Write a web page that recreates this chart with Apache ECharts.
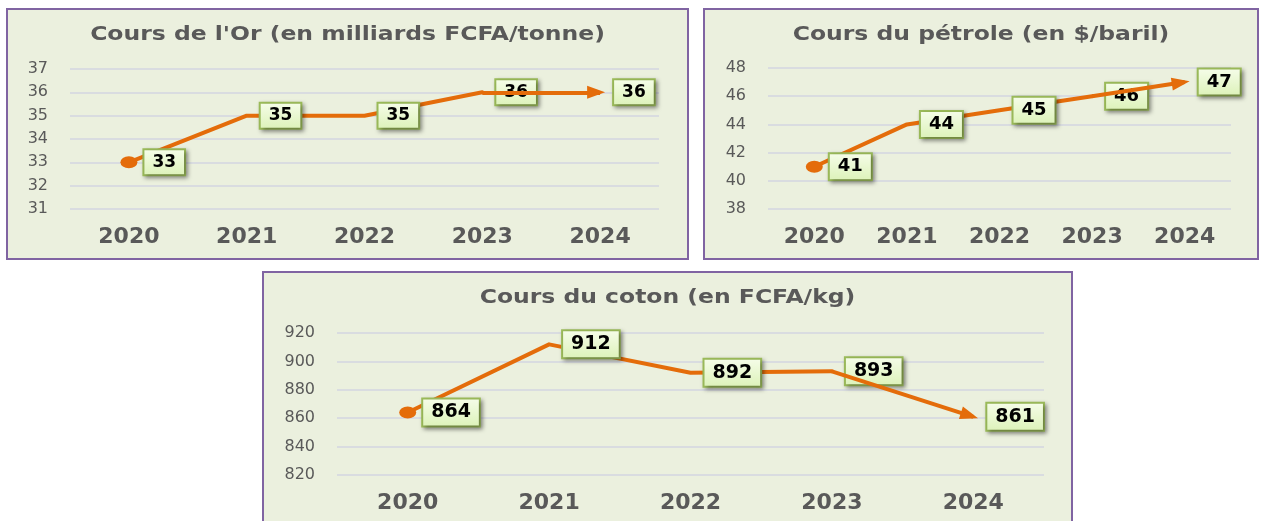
<!DOCTYPE html>
<html>
<head>
<meta charset="utf-8">
<title>Cours</title>
<script src="https://cdn.jsdelivr.net/npm/echarts@6/dist/echarts.min.js"></script>
<style>
    html, body { margin: 0; padding: 0; background: #fff; overflow: hidden; width: 1261px; height: 521px; }
    .panel { position: absolute; box-sizing: border-box; border: 2px solid #8064a2; background: #ebf0de; }
    .or { left: 6px; top: 8px; width: 683px; height: 252px; }
    .petrole { left: 703px; top: 8px; width: 556px; height: 252px; }
    .coton { left: 262px; top: 271px; width: 811px; height: 262px; }
    .panel .chart { width: 100%; height: 100%; }
</style>
</head>
<body>
<div class="panel or"><div class="chart"></div></div>
<div class="panel petrole"><div class="chart"></div></div>
<div class="panel coton"><div class="chart"></div></div>
<script>
var years = ["2020", "2021", "2022", "2023", "2024"];

var orValues = [33, 35, 35, 36, 36];
var orTicks = [31, 32, 33, 34, 35, 36, 37];

var petroleValues = [41, 44, 45, 46, 47];
var petroleTicks = [38, 40, 42, 44, 46, 48];

var cotonValues = [864, 912, 892, 893, 861];
var cotonTicks = [820, 840, 860, 880, 900, 920];

var orange = '#e46c0a';
var grey = '#595959';

// triangle un peu en avant du centre du symbole, pour couvrir le bout du trait
// (les M du debut fixent la boite de 0 a 36)
var arrowPath = 'path://M6.5,0 M6.5,36 M6.5,13 L13,31 L0,31 Z';

// etiquette encadree verte
function boxLabel(size) {
    return {
        show: true,
        position: 'right',
        distance: 14,
        fontFamily: 'DejaVu Sans',
        fontWeight: 'bold',
        fontSize: size,
        color: '#000',
        padding: [4, 8, 3, 8],
        borderColor: '#9bbb59',
        borderWidth: 2,
        backgroundColor: new echarts.graphic.LinearGradient(0, 0, 0, 1, [
            { offset: 0, color: '#f6fdea' },
            { offset: 1, color: '#dcf2b8' }
        ]),
        shadowColor: 'rgba(0,0,0,0.35)',
        shadowBlur: 4,
        shadowOffsetX: 2,
        shadowOffsetY: 2
    };
}

// construit l'option d'un petit graphique
function buildOption(chart, titre, values, ticks, grid, labelSize) {
    var n = values.length;
    // la ligne s'arrete a l'avant-dernier point, la fleche fait le reste
    var lineData = values.map(function (v, i) {
        if (i === 0) {
            return { value: v, symbolSize: [17, 12], label: { distance: 7 } };
        }
        return i < n - 1 ? v : '-';
    });
    var lastData = values.map(function (v, i) {
        return i === n - 1 ? v : '-';
    });
    return {
        animation: false,
        // titre un peu etire comme dans l'original
        graphic: [{
            type: 'text',
            x: chart.getWidth() / 2,
            y: 25,
            scaleX: 1.235,
            style: {
                text: titre,
                align: 'center',
                verticalAlign: 'middle',
                fontFamily: 'DejaVu Sans',
                fontWeight: 'bold',
                fontSize: 19,
                fill: grey
            }
        }],
        grid: grid,
        xAxis: {
            type: 'category',
            data: years,
            boundaryGap: true,
            axisLine: { show: false },
            axisTick: { show: false },
            axisLabel: {
                margin: 17,
                fontFamily: 'DejaVu Sans',
                fontWeight: 'bold',
                fontSize: 22,
                color: grey
            }
        },
        yAxis: {
            type: 'value',
            min: ticks[0],
            max: ticks[ticks.length - 1],
            interval: ticks[1] - ticks[0],
            axisLine: { show: false },
            axisTick: { show: false },
            axisLabel: {
                margin: 22,
                fontFamily: 'DejaVu Sans',
                fontSize: 16,
                color: grey
            },
            splitLine: {
                lineStyle: { color: '#d3d6e0', width: 1.5 }
            }
        },
        series: [
            {
                type: 'line',
                data: lineData,
                symbol: 'circle',
                symbolSize: 0,
                itemStyle: { color: orange },
                lineStyle: { color: orange, width: 4, cap: 'round', join: 'round' },
                label: boxLabel(labelSize),
                // fleche sur le dernier segment
                markLine: {
                    silent: true,
                    symbol: ['none', arrowPath],
                    symbolSize: [13, 36],
                    label: { show: false },
                    lineStyle: { color: orange, width: 4, type: 'solid' },
                    data: [[
                        { coord: [years[n - 2], values[n - 2]] },
                        { coord: [years[n - 1], values[n - 1]] }
                    ]]
                }
            },
            {
                // etiquette du dernier point
                type: 'line',
                data: lastData,
                symbol: 'circle',
                symbolSize: 0,
                itemStyle: { color: orange },
                label: boxLabel(labelSize)
            }
        ]
    };
}

(function () {
    var myChart = echarts.init(document.querySelector('.or .chart'))
    myChart.setOption(buildOption(myChart, "Cours de l'Or (en milliards FCFA/tonne)", orValues, orTicks,
        { left: 62, right: 28, top: 59, bottom: 49 }, 17))
})();

(function () {
    var myChart = echarts.init(document.querySelector('.petrole .chart'))
    myChart.setOption(buildOption(myChart, "Cours du pétrole (en $/baril)", petroleValues, petroleTicks,
        { left: 63, right: 26, top: 58, bottom: 49 }, 18))
})();

(function () {
    var myChart = echarts.init(document.querySelector('.coton .chart'))
    myChart.setOption(buildOption(myChart, "Cours du coton (en FCFA/kg)", cotonValues, cotonTicks,
        { left: 73, right: 27, top: 60, bottom: 56 }, 19))
})();
</script>
</body>
</html>
